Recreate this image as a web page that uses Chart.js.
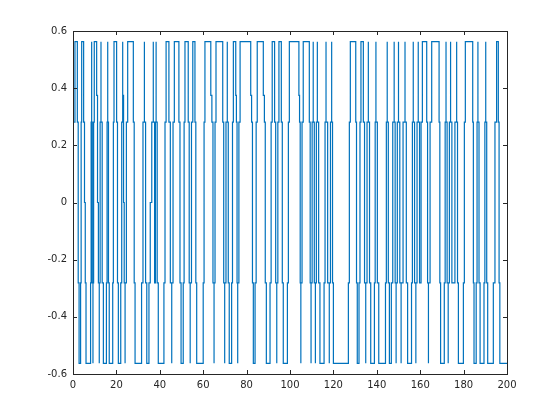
<!DOCTYPE html>
<html>
<head>
<meta charset="UTF-8">
<title>stairs</title>
<script src="https://cdn.jsdelivr.net/npm/chart.js"></script>
<style>
  html, body { margin: 0; padding: 0; background: #fff; }
  #plot { display: block; }
</style>
</head>
<body>
<canvas id="plot" width="560" height="420"></canvas>
<script>
// quantisation levels seen in the picture
const H = 0.5625, h = 0.28125, l = -0.28125, L = -0.5625;

// stair edges: level edgeY[i] holds from edgeX[i] to edgeX[i+1]
const edgeX = [
  0.5, 0.9,
  2.0, 2.4, 2.8,   3.5, 3.75, 4.0,   4.9, 5.3, 5.65, 6.0,
  8.1, 8.35, 8.6,   8.6, 8.9, 9.2,   9.2, 9.5, 9.8,   10.9, 11.3, 11.7, 12.1,
  12.1, 12.5, 12.9,   12.9, 13.45, 14.0,   15.4, 15.7, 16.0,   16.0, 16.35, 16.7,
  18.3, 18.6, 18.9,   20.1, 20.5, 20.9,   22.0, 22.45, 22.9,   22.9, 23.3, 23.6, 24.0,
  24.0, 24.6, 25.2,   27.8, 28.2, 28.6,   31.6, 32.25, 32.9,   32.9, 33.45, 34.0,
  35.0, 35.6, 36.3, 37.0,   37.0, 37.6, 38.0, 38.3,   38.3, 38.8, 39.3,
  41.9, 42.4, 42.9,   44.2, 44.85, 45.5,   45.5, 46.1, 46.7,   48.8, 49.3, 49.8,
  50.8, 51.2, 51.6,   53.1, 53.55, 54.0,   54.0, 54.6, 55.2,   56.2, 56.6, 57.0,
  60.0, 60.4, 60.8,   63.5, 64.0, 64.5, 65.0,   65.0, 65.45, 65.9,   69.0, 69.45, 69.9,
  69.9, 70.5, 71.1,   71.1, 71.55, 72.0,   73.1, 73.5, 73.9,   75.0, 75.3, 75.6, 75.9,
  75.9, 76.45, 77.0,   81.9, 82.3, 82.7, 83.1,   83.9, 84.4, 84.9,   87.7, 88.2, 88.6, 89.1,
  90.8, 91.3, 91.8,   92.9, 93.4, 93.9,   93.9, 94.4, 94.9,   96.0, 96.45, 96.9,
  98.8, 99.25, 99.7,   104.1, 104.4, 104.7, 105.0,   105.0, 105.55, 106.1,
  108.9, 109.3, 109.7,   109.7, 110.2, 110.7,   110.7, 111.2, 111.7,   111.7, 112.15, 112.6,
  112.6, 113.2, 113.8,   115.7, 116.15, 116.6,   116.6, 117.35, 118.1,   118.1, 118.65, 119.2,
  119.2, 119.6, 120.0,   126.9, 127.35, 127.8,   130.3, 130.65, 131.0,   131.8, 132.25, 132.7,
  133.8, 134.35, 134.9,   134.9, 135.5, 136.1,   136.1, 136.65, 137.2,   138.9, 139.25, 139.6,
  139.6, 140.25, 140.9,   144.0, 144.4, 144.8,   144.8, 145.3, 145.8,   146.7, 147.35, 148.0,
  148.0, 148.45, 148.9,   148.9, 149.45, 150.0,   150.0, 150.6, 151.2,   151.2, 152.1, 153.0,
  153.0, 153.6, 154.2,   156.0, 156.4, 156.8,   156.8, 157.4, 158.0,   158.0, 158.55, 159.1,
  159.1, 159.7, 160.4, 161.0,   163.0, 163.4, 163.8,   163.8, 164.55, 165.3,
  168.7, 169.05, 169.4,   171.1, 171.5, 171.9,   171.9, 172.4, 172.9,   172.9, 173.45, 174.0,
  174.0, 174.6, 176.0, 176.8,   176.8, 177.2, 177.6,   179.9, 180.35, 180.8,
  184.2, 184.5, 184.8,   185.8, 186.2, 186.6,   186.6, 187.1, 187.6,   189.4, 189.8, 190.2,
  190.2, 190.65, 191.1,   193.7, 194.45, 195.2,   196.0, 196.35, 196.7,
  200
];
const edgeY = [
  h, H,
  h, l, L,   l, h, H,   h, 0, l, L,
  l, h, H,   h, l, L,   l, h, H,   0.375, 0, l, L,
  l, h, H,   h, l, L,   l, h, H,   h, l, L,
  l, h, H,   h, l, L,   l, h, H,   0.375, 0, l, L,
  l, h, H,   h, l, L,   l, h, H,   h, l, L,
  l, 0, h, H,   h, l, h, H,   h, l, L,
  l, h, H,   h, l, L,   l, h, H,   h, l, L,
  l, h, H,   h, l, L,   l, h, H,   h, l, L,
  l, h, H,   0.375, h, l, L,   l, h, H,   h, l, L,
  l, h, H,   h, l, L,   l, h, H,   0.375, h, l, L,
  l, h, H,   0.375, h, l, L,   l, h, H,   0.375, h, l, L,
  l, h, H,   h, l, L,   l, h, H,   h, l, L,
  l, h, H,   0.375, h, l, L,   l, h, H,
  h, l, L,   l, h, H,   h, l, L,   l, h, H,
  h, l, L,   l, h, H,   h, l, L,   l, h, H,
  h, l, L,   l, h, H,   h, l, L,   l, h, H,
  h, l, L,   l, h, H,   h, l, L,   l, h, H,
  h, l, L,   l, h, H,   h, l, L,   l, h, H,
  h, l, L,   l, h, H,   h, l, L,   l, h, H,
  h, l, L,   l, h, H,   h, l, L,   l, h, H,
  h, l, h, H,   h, l, L,   l, h, H,
  h, l, L,   l, h, H,   h, l, L,   l, h, H,
  h, l, h, H,   h, l, L,   l, h, H,
  h, l, L,   l, h, H,   h, l, L,   l, h, H,
  h, l, L,   l, h, H,   h, l, L,
  L
];
const xTicks = [0, 20, 40, 60, 80, 100, 120, 140, 160, 180, 200];
const yTicks = [-0.6, -0.4, -0.2, 0, 0.2, 0.4, 0.6];
const yTickLabels = ['-0.6', '-0.4', '-0.2', '0', '0.2', '0.4', '0.6'];

const axisColor = '#262626';

if (edgeX.length !== edgeY.length) console.error('edge arrays differ', edgeX.length, edgeY.length);

// matlab style box with ticks pointing inward on all four sides
const boxAxes = {
  id: 'boxAxes',
  afterDraw(chart) {
    const { ctx, chartArea: a, scales: { x, y } } = chart;
    const len = 4;
    ctx.save();
    ctx.strokeStyle = axisColor;
    ctx.lineWidth = 1;
    ctx.beginPath();
    x.ticks.forEach(t => {
      const px = Math.round(x.getPixelForValue(t.value)) + 0.5;
      ctx.moveTo(px, a.bottom); ctx.lineTo(px, a.bottom - len);
      ctx.moveTo(px, a.top); ctx.lineTo(px, a.top + len);
    });
    y.ticks.forEach(t => {
      const py = Math.round(y.getPixelForValue(t.value)) + 0.5;
      ctx.moveTo(a.left, py); ctx.lineTo(a.left + len, py);
      ctx.moveTo(a.right, py); ctx.lineTo(a.right - len, py);
    });
    ctx.stroke();
    ctx.strokeRect(Math.round(a.left) + 0.5, Math.round(a.top) + 0.5,
      Math.round(a.right - a.left), Math.round(a.bottom - a.top));
    ctx.restore();
  }
};

Chart.defaults.font.family = '"DejaVu Sans", sans-serif';
Chart.defaults.font.size = 10;
Chart.defaults.color = axisColor;

new Chart(document.getElementById('plot'), {
  type: 'line',
  data: {
    datasets: [{
      data: edgeX.map((x, i) => ({ x: x, y: edgeY[i] })),
      borderColor: '#0072BD',
      borderWidth: 1.2,
      pointRadius: 0,
      stepped: true,
      fill: false
    }]
  },
  options: {
    responsive: false,
    animation: false,
    events: [],
    layout: { padding: { top: 31, right: 53, left: 0, bottom: 0 } },
    plugins: { legend: { display: false }, tooltip: { enabled: false } },
    scales: {
      x: {
        type: 'linear',
        min: 0,
        max: 200,
        grid: { display: false, drawTicks: false, tickLength: 0 },
        border: { display: false },
        afterBuildTicks: s => { s.ticks = xTicks.map(v => ({ value: v })); },
        ticks: { padding: 5, maxRotation: 0, autoSkip: false, callback: v => String(v) },
        afterFit: s => { s.height = 46; s.paddingLeft = 0; s.paddingRight = 0; }
      },
      y: {
        type: 'linear',
        min: -0.6,
        max: 0.6,
        grid: { display: false, drawTicks: false, tickLength: 0 },
        border: { display: false },
        afterBuildTicks: s => { s.ticks = yTicks.map(v => ({ value: v })); },
        ticks: { padding: 6, autoSkip: false, callback: (v, i) => yTickLabels[i] },
        afterFit: s => { s.width = 73; s.paddingTop = 0; s.paddingBottom = 0; }
      }
    }
  },
  plugins: [boxAxes]
});
</script>
</body>
</html>
